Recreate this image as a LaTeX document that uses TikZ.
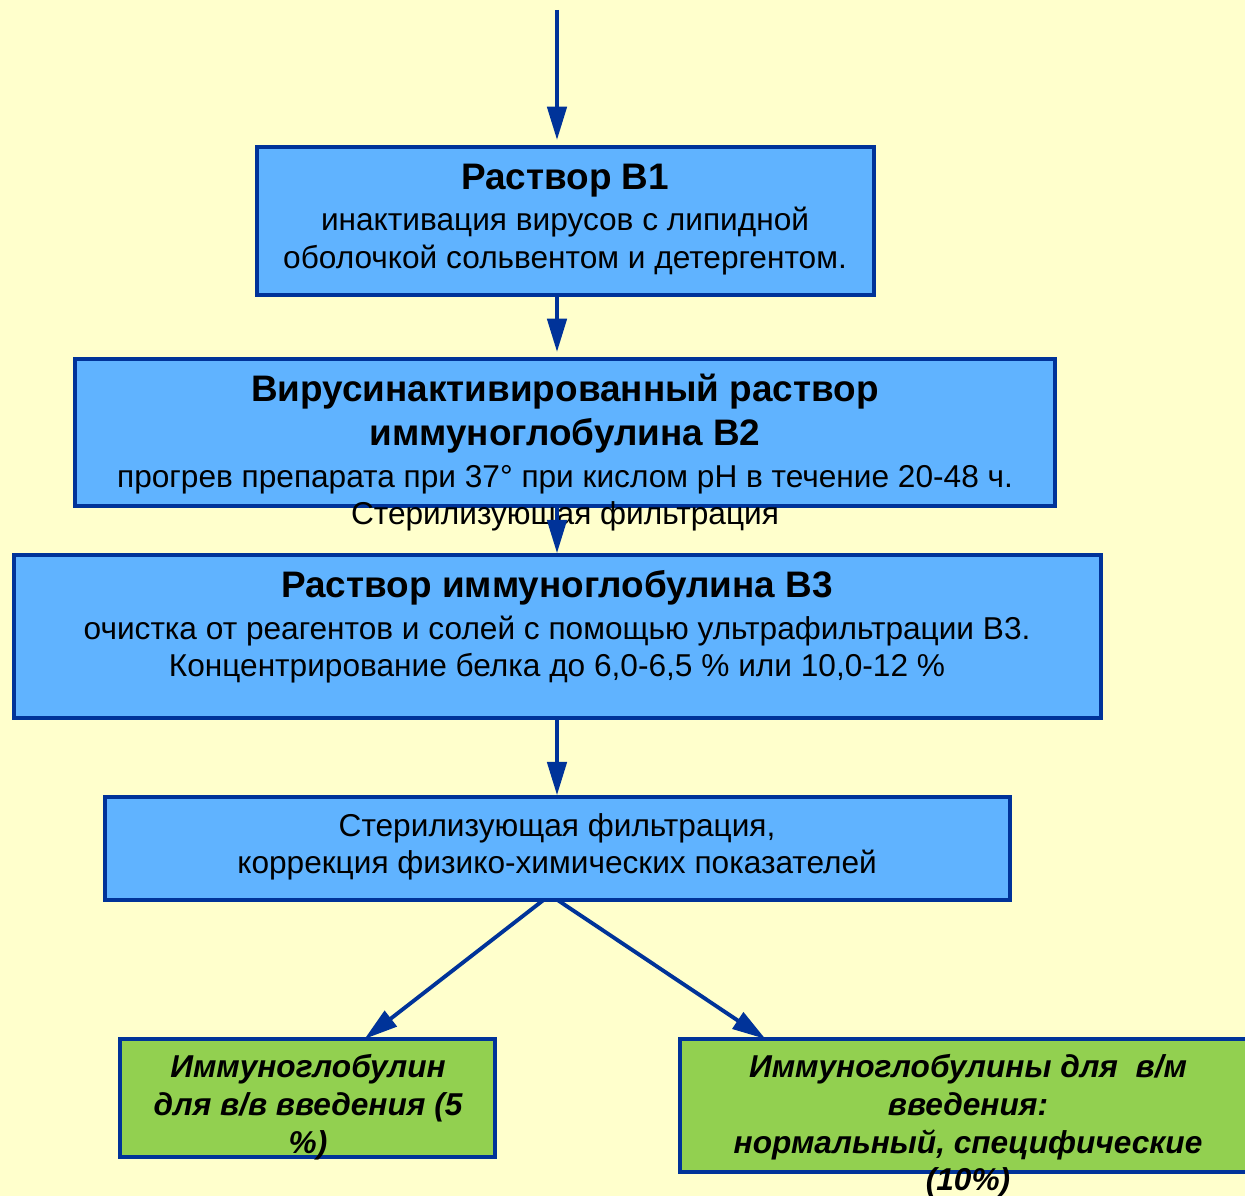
\documentclass[tikz,border=0pt]{standalone}
\usepackage{fontspec}
\setmainfont{Liberation Sans}
\usetikzlibrary{arrows.meta}
\definecolor{bg}{HTML}{FFFFCC}
\definecolor{dblue}{HTML}{003399}
\definecolor{lblue}{HTML}{60B3FF}
\definecolor{lgreen}{HTML}{92D050}
\newcommand{\ttl}{\fontsize{21}{22}\selectfont\bfseries}
\begin{document}
\begin{tikzpicture}[x=0.02cm,y=-0.02cm,
  box/.style={draw=dblue,line width=2.8pt,rectangle,inner sep=0pt,outer sep=0pt},
  bbox/.style={box,fill=lblue},
  gbox/.style={box,fill=lgreen},
  txt/.style={align=center,inner sep=0pt,text=black},
  arr/.style={draw=dblue,line width=2.2pt,-{Triangle[length=19pt,width=11pt]}}]
\fill[bg] (0,0) rectangle (1245,1196);
\useasboundingbox (0,0) rectangle (1245,1196);
% boxes
\node[bbox,minimum width=617*0.02cm,minimum height=148*0.02cm] (b1) at (565.5,221) {};
\node[bbox,minimum width=980*0.02cm,minimum height=147*0.02cm] (b2) at (565,432.5) {};
\node[bbox,minimum width=1087*0.02cm,minimum height=163*0.02cm] (b3) at (557.5,636.5) {};
\node[bbox,minimum width=905*0.02cm,minimum height=103*0.02cm] (b4) at (557.5,848.5) {};
\node[gbox,minimum width=375*0.02cm,minimum height=118*0.02cm] (g1) at (307.5,1098) {};
\node[gbox,minimum width=575*0.02cm,minimum height=133*0.02cm] (g2) at (967.5,1105.5) {};
% texts
\node[txt,font=\fontsize{18}{22}\selectfont] (t1) at (565,220) {{\ttl Раствор В1}\\[1pt]инактивация вирусов с липидной\\оболочкой сольвентом и детергентом.};
\node[txt,font=\fontsize{18}{22}\selectfont] (t2) at (565,434) {{\ttl Вирусинактивированный раствор}\\[3pt]{\ttl иммуноглобулина В2}\\[2pt]прогрев препарата при 37° при кислом pH в течение 20-48 ч.};
\node[txt,font=\fontsize{18}{22}\selectfont] (lab) at (565,516) {Стерилизующая фильтрация};
\node[txt,font=\fontsize{18}{21}\selectfont] (t3) at (557,627) {{\ttl Раствор иммуноглобулина В3}\\[3pt]очистка от реагентов и солей с помощью ультрафильтрации В3.\\Концентрирование белка до 6,0-6,5 \% или 10,0-12 \%};
\node[txt,font=\fontsize{18}{21}\selectfont] (t4) at (557,846.5) {Стерилизующая фильтрация,\\коррекция физико-химических показателей};
\node[txt,font=\fontsize{18}{21.5}\selectfont\bfseries\itshape] (t5) at (308,1107) {Иммуноглобулин\\для в/в введения (5\\\%)};
\node[txt,font=\fontsize{18}{21.5}\selectfont\bfseries\itshape] (t6) at (968,1126) {Иммуноглобулины для\ \ в/м\\введения:\\нормальный, специфические\\(10\%)};
% arrows
\coordinate (top) at (557,10);
\draw[arr,shorten >=4pt] (top) -- (top|-b1.north);
\draw[arr,shorten >=4pt] (top|-b1.south) -- (top|-b2.north);
\draw[arr,shorten >=1pt] (top|-b2.south) -- (top|-b3.north);
\draw[arr,shorten >=1pt] (top|-b3.south) -- (top|-b4.north);
\draw[arr] ([xshift=-14*0.02cm]b4.south) -- ([xshift=57*0.02cm]g1.north);
\draw[arr] (b4.south) -- ([xshift=-202*0.02cm]g2.north);
\end{tikzpicture}
\end{document}
